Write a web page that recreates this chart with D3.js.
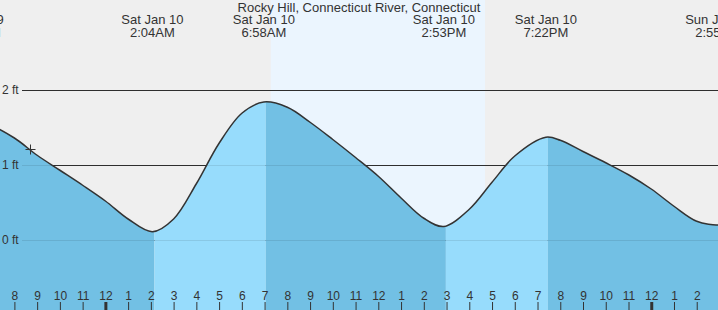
<!DOCTYPE html>
<html>
<head>
<meta charset="utf-8">
<script src="https://cdn.jsdelivr.net/npm/d3@7"></script>
<style>
    body { margin: 0; background: #fff; }
    svg { display: block; font-family: "Liberation Sans", Arial, sans-serif; }
    .txt { fill: #333; }
</style>
</head>
<body>
<svg id="chart" width="718" height="310"></svg>
<script>
    // hours are counted from Sat Jan 10, 12:00AM
    var title = 'Rocky Hill, Connecticut River, Connecticut';

    // tide curve (feet)
    var curveHours = [-5.583, -5, -4, -3, -2, -1, 0, 1, 2.067, 3, 4, 5, 6, 6.967, 8, 9, 10, 11, 12, 13, 14, 14.883, 16, 17, 18, 19.367, 20, 21, 22, 23, 24, 25, 26, 26.917, 27];
    var curveFeet  = [1.54, 1.52, 1.36, 1.13, 0.93, 0.73, 0.52, 0.28, 0.11, 0.28, 0.75, 1.29, 1.69, 1.84, 1.77, 1.57, 1.34, 1.10, 0.85, 0.56, 0.29, 0.18, 0.41, 0.77, 1.12, 1.37, 1.33, 1.18, 1.03, 0.87, 0.68, 0.45, 0.25, 0.20, 0.21];

    // high / low events
    var eventHours = [-5.583, 2.067, 6.967, 14.883, 19.367, 26.917];
    var eventDays  = ['Fri Jan 9', 'Sat Jan 10', 'Sat Jan 10', 'Sat Jan 10', 'Sat Jan 10', 'Sun Jan 11'];
    var eventClock = ['6:25PM', '2:04AM', '6:58AM', '2:53PM', '7:22PM', '2:55AM'];
    var eventType  = ['H', 'L', 'H', 'L', 'H', 'L'];

    // daylight
    var sunriseHour = 7.27;
    var sunsetHour = 16.69;

    // current time marker
    var nowHour = -3.3;
    var nowFeet = 1.21;

    var yTicks = [0, 1, 2];
    var yTickLabels = ['0 ft', '1 ft', '2 ft'];

    var dim = { w: 718, h: 310 };
    var base = Date.UTC(2026, 0, 10);
    function toDate(h) { return new Date(base + h * 3600e3); }

    var x = d3.scaleUtc()
        .domain([toDate(-4.633), toDate(26.935)])
        .range([0, dim.w]);
    var y = d3.scaleLinear()
        .domain([0, 2])
        .range([240, 90]);

    var svg = d3.select('#chart');

    //background and daylight
    svg.append('rect')
        .attr('width', dim.w).attr('height', dim.h)
        .attr('fill', '#efefef');
    svg.append('rect')
        .attr('x', x(toDate(sunriseHour)))
        .attr('width', x(toDate(sunsetHour)) - x(toDate(sunriseHour)))
        .attr('height', dim.h)
        .attr('fill', '#ebf5fe');

    function grid(color, opacity) {
        svg.append('g').selectAll('line')
            .data(yTicks)
            .join('line')
            .attr('x1', 22).attr('x2', dim.w)
            .attr('y1', function (d) { return Math.round(y(d)) + 0.5; })
            .attr('y2', function (d) { return Math.round(y(d)) + 0.5; })
            .attr('stroke', color)
            .attr('stroke-opacity', opacity);
    }

    //grid lines
    grid('#333', 1);

    var points = curveHours.map(function (h, i) { return { t: toDate(h), v: curveFeet[i] }; });

    var area = d3.area()
        .x(function (d) { return x(d.t); })
        .y0(dim.h)
        .y1(function (d) { return y(d.v); })
        .curve(d3.curveCatmullRom.alpha(0.5));
    var line = d3.line()
        .x(function (d) { return x(d.t); })
        .y(function (d) { return y(d.v); })
        .curve(d3.curveCatmullRom.alpha(0.5));

    svg.append('defs').append('clipPath')
        .attr('id', 'water')
        .append('path')
        .attr('d', area(points));

    //rising / falling segments, each one ends at an event
    var water = svg.append('g').attr('clip-path', 'url(#water)');
    var edges = eventHours.map(function (h) { return x(toDate(h)) + 2; }).concat([dim.w + 40]);
    for (var i = 0; i < eventHours.length; i++) {
        var start = i === 0 ? -40 : edges[i - 1];
        water.append('rect')
            .attr('x', start)
            .attr('width', Math.max(0, edges[i] - start))
            .attr('height', dim.h)
            .attr('fill', eventType[i] === 'L' ? '#72c0e4' : '#97dcfc');
    }
    water.append('rect')
        .attr('x', edges[eventHours.length - 1])
        .attr('width', 40)
        .attr('height', dim.h)
        .attr('fill', '#97dcfc');

    //faint grid over the water
    grid('#000', 0.09);

    svg.append('path')
        .attr('d', line(points))
        .attr('fill', 'none')
        .attr('stroke', '#333')
        .attr('stroke-width', 1.5);

    //y labels
    svg.append('g').selectAll('text')
        .data(yTicks)
        .join('text')
        .attr('class', 'txt')
        .attr('x', 2)
        .attr('y', function (d) { return y(d); })
        .attr('dy', '0.35em')
        .style('font-size', '12px')
        .text(function (d, i) { return yTickLabels[i]; });

    //hour axis
    var axis = svg.append('g')
        .attr('transform', 'translate(0,' + dim.h + ')')
        .call(d3.axisTop(x)
            .ticks(d3.utcHour.every(1))
            .tickFormat(d3.utcFormat('%-I'))
            .tickSize(8)
            .tickPadding(2));
    axis.select('.domain').remove();
    axis.selectAll('text')
        .attr('fill', '#333')
        .style('font-size', '12px')
        .style('font-family', '"Liberation Sans", Arial, sans-serif');
    axis.selectAll('line')
        .attr('stroke', '#333')
        .attr('stroke-width', function (d) { return d.getUTCHours() === 0 ? 3 : 1; });

    //event labels
    var ev = svg.append('g').selectAll('g')
        .data(eventHours)
        .join('g')
        .attr('transform', function (d) { return 'translate(' + x(toDate(d)) + ',0)'; });
    ev.append('text')
        .attr('class', 'txt')
        .attr('y', 24)
        .attr('text-anchor', 'middle')
        .style('font-size', '13px')
        .text(function (d, i) { return eventDays[i]; });
    ev.append('text')
        .attr('class', 'txt')
        .attr('y', 36.5)
        .attr('text-anchor', 'middle')
        .style('font-size', '13px')
        .text(function (d, i) { return eventClock[i]; });

    //title
    svg.append('text')
        .attr('class', 'txt')
        .attr('x', dim.w / 2)
        .attr('y', 12)
        .attr('text-anchor', 'middle')
        .style('font-size', '13px')
        .text(title);

    //current time marker
    var nx = Math.round(x(toDate(nowHour))) + 0.5;
    var ny = Math.round(y(nowFeet)) + 0.5;
    svg.append('path')
        .attr('d', 'M' + (nx - 5) + ',' + ny + 'H' + (nx + 5) + 'M' + nx + ',' + (ny - 5) + 'V' + (ny + 5))
        .attr('stroke', '#333')
        .attr('stroke-width', 1);
</script>
</body>
</html>
